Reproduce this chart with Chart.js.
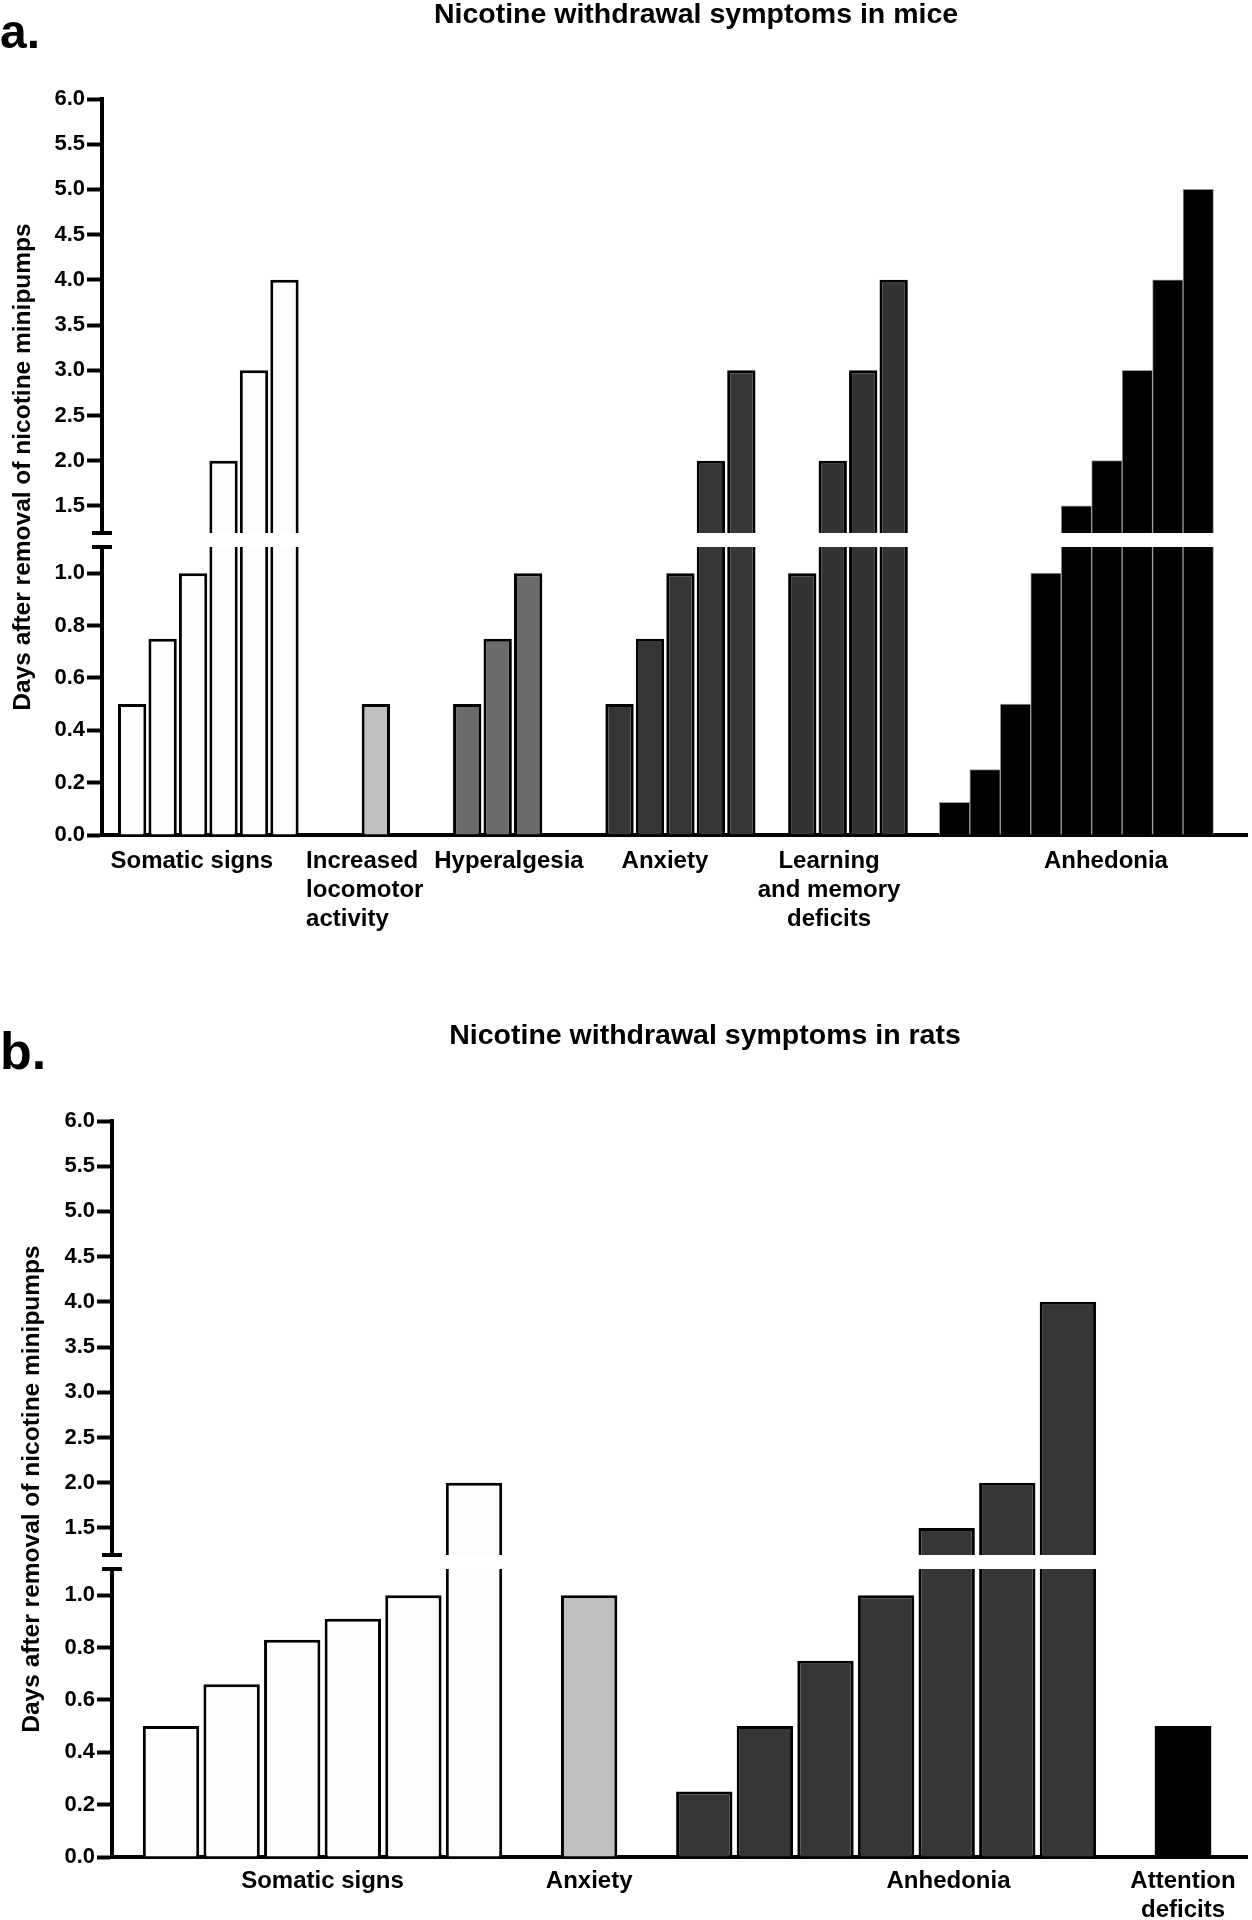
<!DOCTYPE html>
<html>
<head>
<meta charset="utf-8">
<title>Nicotine withdrawal symptoms</title>
<script src="https://cdn.jsdelivr.net/npm/chart.js@4.4.1/dist/chart.umd.min.js"></script>
<style>
  html, body { margin: 0; padding: 0; background: #fff; }
  canvas { display: block; }
</style>
</head>
<body>
<canvas id="graficoCamundongos" width="1252" height="960"></canvas>
<canvas id="graficoRatos" width="1252" height="960"></canvas>
<script>
const tituloEixoY = 'Days after removal of nicotine minipumps';
const ticksSuperior = [1.5, 2.0, 2.5, 3.0, 3.5, 4.0, 4.5, 5.0, 5.5, 6.0];
const ticksInferior = [0, 0.2, 0.4, 0.6, 0.8, 1.0];
const quebraBaixo = 1.1;
const quebraAlto = 1.2;
const topoEixo = 6.0;

// a. camundongos
const tituloCamundongos = 'Nicotine withdrawal symptoms in mice';
const categoriasCamundongos = [['Somatic signs'], ['Increased', 'locomotor', 'activity'], ['Hyperalgesia'], ['Anxiety'], ['Learning', 'and memory', 'deficits'], ['Anhedonia']];
const somaticoCamundongos = [0.5, 0.75, 1, 2, 3, 4];
const locomocaoCamundongos = [0.5];
const hiperalgesiaCamundongos = [0.5, 0.75, 1];
const ansiedadeCamundongos = [0.5, 0.75, 1, 2, 3];
const aprendizadoCamundongos = [1, 2, 3, 4];
const anedoniaCamundongos = [0.125, 0.25, 0.5, 1, 1.5, 2, 3, 4, 5];

// b. ratos
const tituloRatos = 'Nicotine withdrawal symptoms in rats';
const categoriasRatos = [['Somatic signs'], ['Anxiety'], ['Anhedonia'], ['Attention', 'deficits']];
const somaticoRatos = [0.5, 0.66, 0.83, 0.91, 1, 2];
const ansiedadeRatos = [1];
const anedoniaRatos = [0.25, 0.5, 0.75, 1, 1.5, 2, 4];
const atencaoRatos = [0.5];

const fonte = '"Liberation Sans", Arial, sans-serif';

document.addEventListener("DOMContentLoaded", () => {

  const paineis = [
    {
      canvas: 'graficoCamundongos',
      letra: 'a.', letraY: 48, letraTam: 48,
      titulo: tituloCamundongos, tituloX: 696, tituloY: 23,
      categorias: categoriasCamundongos,
      series: [somaticoCamundongos, locomocaoCamundongos, hiperalgesiaCamundongos, ansiedadeCamundongos, aprendizadoCamundongos, anedoniaCamundongos],
      cores: ['#fdfdfd', '#c0c0c0', '#6b6b6b', '#363636', '#333333', '#000000'],
      contornos: ['#000', '#000', '#000', '#000', '#000', '#9a9a9a'],
      bordas: [3, 3, 3, 3, 3, 1],
      larguras: [0.93, 0.93, 0.93, 0.93, 0.93, 1],
      espacos: [2, 2, 2, 1, 1],
      rotuloEm: [1.96, 5.71, 12.37, 17.49, 22.88, 31.97],
      rotuloAlinha: ['center', 'left', 'center', 'center', 'center', 'center'],
      rotuloY: 868,
      esquerda: 102, topo: 99, alturaX: 125,
      xMin: -0.99, xMax: 36.6,
      eixoTituloX: 23
    },
    {
      canvas: 'graficoRatos',
      letra: 'b.', letraY: 109, letraTam: 52,
      titulo: tituloRatos, tituloX: 705, tituloY: 84,
      categorias: categoriasRatos,
      series: [somaticoRatos, ansiedadeRatos, anedoniaRatos, atencaoRatos],
      cores: ['#fdfdfd', '#c0c0c0', '#363636', '#000000'],
      contornos: ['#000', '#000', '#000', '#000'],
      bordas: [3, 3, 3, 0],
      larguras: [0.93, 0.93, 0.93, 0.93],
      espacos: [0.9, 0.9, 0.9],
      rotuloEm: [2.5, 6.9, 12.83, 16.7],
      rotuloAlinha: ['center', 'center', 'center', 'center'],
      rotuloY: 928,
      esquerda: 112, topo: 161, alturaX: 63,
      xMin: -0.974, xMax: 17.756,
      eixoTituloX: 32
    }
  ];

  function montarDatasets(p) {
    const datasets = [];
    let inicio = 0;
    p.series.forEach((valores, i) => {
      const b = p.bordas[i];
      const inteiros = [], cortados = [], altos = [];
      valores.forEach((v, k) => {
        const x = inicio + k;
        if (v > quebraBaixo) {
          cortados.push({ x, y: quebraBaixo });
          altos.push({ x, y: [quebraAlto, v] });
        } else {
          inteiros.push({ x, y: v });
        }
      });
      const base = {
        backgroundColor: p.cores[i],
        borderColor: p.contornos[i],
        grouped: false,
        barPercentage: p.larguras[i],
        categoryPercentage: 1
      };
      datasets.push(Object.assign({ yAxisID: 'yBaixo', data: inteiros, borderWidth: { top: b, left: b, right: b, bottom: 0 } }, base));
      datasets.push(Object.assign({ yAxisID: 'yBaixo', data: cortados, borderWidth: { top: 0, left: b, right: b, bottom: 0 } }, base));
      datasets.push(Object.assign({ yAxisID: 'yAlto', data: altos, borderWidth: { top: b, left: b, right: b, bottom: 0 } }, base));
      inicio += valores.length + (p.espacos[i] || 0);
    });
    return datasets;
  }

  const decoracao = {
    id: 'decoracao',
    afterDraw(chart, args, opts) {
      const p = opts.painel;
      const { ctx, scales } = chart;
      ctx.save();
      ctx.fillStyle = '#000';
      ctx.textBaseline = 'alphabetic';

      ctx.font = 'bold ' + p.letraTam + 'px ' + fonte;
      ctx.textAlign = 'left';
      ctx.fillText(p.letra, 0, p.letraY);

      ctx.font = 'bold 28.5px ' + fonte;
      ctx.textAlign = 'center';
      ctx.fillText(p.titulo, p.tituloX, p.tituloY);

      ctx.save();
      ctx.translate(p.eixoTituloX, (scales.yAlto.top + scales.yBaixo.bottom) / 2);
      ctx.rotate(-Math.PI / 2);
      ctx.font = 'bold 24.5px ' + fonte;
      ctx.textBaseline = 'middle';
      ctx.fillText(tituloEixoY, 0, 0);
      ctx.restore();

      // tampinhas da quebra do eixo
      const ax = chart.chartArea.left;
      ctx.strokeStyle = '#000';
      ctx.lineWidth = 4;
      [scales.yAlto.bottom, scales.yBaixo.top].forEach(y => {
        ctx.beginPath();
        ctx.moveTo(ax - 10, y);
        ctx.lineTo(ax + 10, y);
        ctx.stroke();
      });

      ctx.font = 'bold 24px ' + fonte;
      p.categorias.forEach((linhas, i) => {
        const x = scales.x.getPixelForValue(p.rotuloEm[i]);
        ctx.textAlign = p.rotuloAlinha[i];
        linhas.forEach((t, j) => ctx.fillText(t, x, p.rotuloY + j * 29));
      });
      ctx.restore();
    }
  };

  function eixoY(p, ticks, min, max, peso, ordem) {
    return {
      type: 'linear',
      position: 'left',
      stack: 'quebra',
      stackWeight: peso,
      weight: ordem,
      min, max,
      afterBuildTicks: s => { s.ticks = ticks.map(v => ({ value: v })); },
      afterFit: s => { s.width = p.esquerda; },
      ticks: {
        autoSkip: false,
        color: '#000',
        font: { family: fonte, size: 22, weight: 'bold' },
        padding: 2,
        callback: v => Number(v).toFixed(1)
      },
      grid: { drawOnChartArea: false, drawTicks: true, tickLength: 15, tickWidth: 4, tickColor: '#000' },
      border: { display: true, color: '#000', width: 4 }
    };
  }

  paineis.forEach(p => {
    const ctx = document.getElementById(p.canvas).getContext('2d');
    new Chart(ctx, {
      type: 'bar',
      data: { datasets: montarDatasets(p) },
      plugins: [decoracao],
      options: {
        responsive: false,
        animation: false,
        devicePixelRatio: 1,
        layout: { padding: { top: p.topo, right: 5, left: 0, bottom: 0 } },
        plugins: {
          legend: { display: false },
          tooltip: { enabled: false },
          decoracao: { painel: p }
        },
        scales: {
          x: {
            type: 'linear',
            offset: false,
            min: p.xMin, max: p.xMax,
            z: 1,
            afterFit: s => { s.height = p.alturaX; },
            ticks: { display: false },
            grid: { display: false, offset: false },
            border: { display: true, color: '#000', width: 4 }
          },
          yAlto: eixoY(p, ticksSuperior, quebraAlto, topoEixo, 434, 3),
          yVao: {
            type: 'linear', position: 'left', stack: 'quebra', stackWeight: 14, weight: 2,
            display: false, min: 0, max: 1,
            afterFit: s => { s.width = p.esquerda; }
          },
          yBaixo: eixoY(p, ticksInferior, 0, quebraBaixo, 288, 1)
        }
      }
    });
  });
});
</script>
</body>
</html>
